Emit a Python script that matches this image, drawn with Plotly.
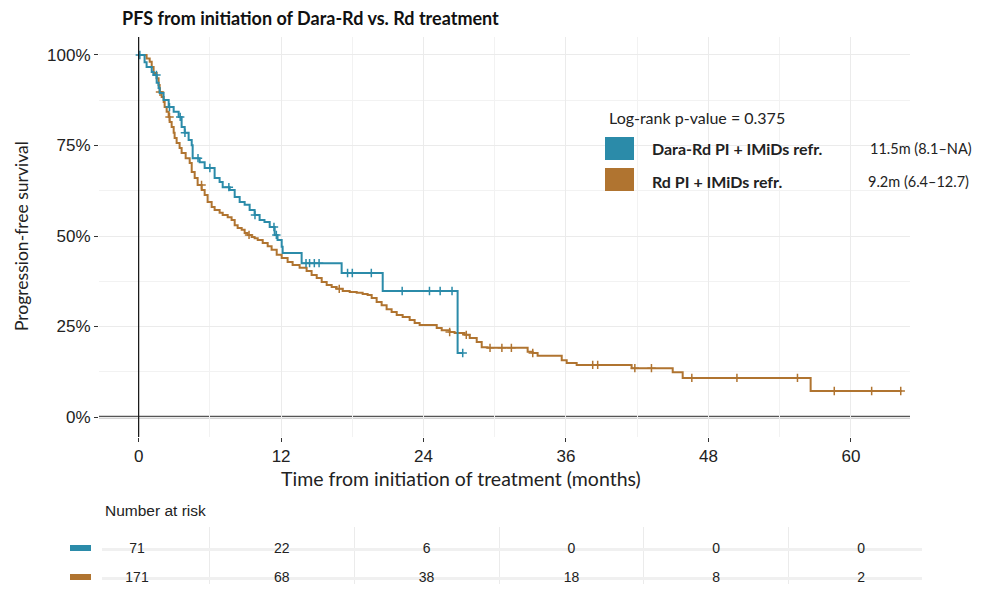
import numpy as np
import plotly.graph_objects as go

# ---------------- data ----------------
dara_time = [0, 0.5, 0.67, 1.1, 1.26, 1.52, 1.68, 1.77, 2.1, 2.53,
             2.95, 3.37, 3.62, 3.88, 4.21, 4.47, 4.55, 5.14, 5.56, 6.4,
             6.82, 7.08, 7.67, 8.09, 8.51, 8.93, 9.35, 9.77, 10.19, 10.6,
             11.04, 11.46, 11.7, 12.05, 12.13, 13.73, 17.1, 20.56, 26.87, 27.3]
dara_surv = [1.0, 0.98, 0.967, 0.953, 0.945, 0.923, 0.909, 0.895, 0.876, 0.856,
             0.843, 0.829, 0.801, 0.785, 0.765, 0.751, 0.715, 0.704, 0.688, 0.66,
             0.649, 0.635, 0.627, 0.608, 0.594, 0.586, 0.572, 0.558, 0.544, 0.539,
             0.525, 0.503, 0.489, 0.47, 0.453, 0.425, 0.398, 0.348, 0.177, 0.177]
dara_censor = [0.1, 1.5, 2.6, 3.5, 3.9, 5.0, 6.0, 7.6, 9.8, 11.4, 11.6, 14.1, 14.4,
               14.8, 15.2, 17.6, 18.0, 19.6, 22.2, 24.5, 25.4, 26.4, 27.3]

rd_time = [0, 0.67, 0.93, 1.10, 1.26, 1.52, 1.68, 1.77, 1.94, 2.11,
           2.19, 2.36, 2.53, 2.61, 2.78, 2.95, 3.03, 3.20, 3.45, 3.62,
           3.96, 4.30, 4.47, 4.72, 4.97, 5.31, 5.56, 5.81, 6.15, 6.40,
           6.82, 7.08, 7.50, 7.83, 8.09, 8.34, 8.68, 8.93, 9.18, 9.52,
           9.77, 10.03, 10.45, 10.87, 11.2, 11.63, 12.05, 12.55, 12.97, 13.56,
           14.15, 14.57, 15.0, 15.42, 15.84, 16.26, 16.68, 17.19, 17.78, 18.37,
           18.87, 19.29, 19.63, 20.05, 20.47, 20.89, 21.31, 21.74, 22.24, 22.83,
           23.25, 23.67, 25.11, 25.53, 26.2, 26.62, 27.46, 27.89, 28.48, 28.9,
           29.4, 32.77, 33.19, 33.61, 35.64, 36.06, 36.9, 41.53, 44.99, 45.83,
           56.61, 64.28]
rd_surv = [1.0, 0.99, 0.981, 0.967, 0.950, 0.936, 0.917, 0.898, 0.884, 0.870,
           0.856, 0.843, 0.829, 0.815, 0.801, 0.785, 0.771, 0.757, 0.743, 0.729,
           0.715, 0.702, 0.677, 0.660, 0.641, 0.627, 0.613, 0.594, 0.580, 0.572,
           0.564, 0.558, 0.552, 0.544, 0.530, 0.522, 0.517, 0.508, 0.503, 0.497,
           0.494, 0.489, 0.481, 0.472, 0.462, 0.448, 0.439, 0.428, 0.420, 0.412,
           0.403, 0.392, 0.384, 0.373, 0.365, 0.359, 0.354, 0.348, 0.345, 0.343,
           0.340, 0.337, 0.329, 0.318, 0.309, 0.298, 0.290, 0.282, 0.276, 0.268,
           0.260, 0.254, 0.246, 0.240, 0.235, 0.232, 0.227, 0.218, 0.207, 0.193,
           0.191, 0.180, 0.177, 0.169, 0.157, 0.149, 0.144, 0.135, 0.124, 0.108,
           0.072, 0.072]
rd_censor = [1.8, 2.6, 5.3, 9.3, 16.9, 26.2, 27.6, 29.6, 30.6, 31.4, 33.2, 38.25,
             38.67, 41.8, 43.2, 46.6, 50.4, 55.5, 58.6, 61.75, 64.2]

risk_times = [0, 12, 24, 36, 48, 60]
dara_risk = [71, 22, 6, 0, 0, 0]
rd_risk = [171, 68, 38, 18, 8, 2]

x_ticks = [0, 12, 24, 36, 48, 60]
x_minor = [6, 18, 30, 42, 54]
y_ticks = [0, 0.25, 0.5, 0.75, 1.0]
y_ticktext = ["0%", "25%", "50%", "75%", "100%"]
y_minor = [0.125, 0.375, 0.625, 0.875]

groups = ["Dara-Rd PI + IMiDs refr.", "Rd PI + IMiDs refr."]
medians = ["11.5m (8.1–NA)", "9.2m (6.4–12.7)"]
pval_text = "Log-rank p-value = 0.375"

BLUE = "#2b8ba9"
BROWN = "#b07430"

# ---------------- helpers ----------------
OFF = 8                      # default page body margin
W, H = 970, 576              # figure size so the page fits the window
def PX(x): return (x - OFF) / W
def PY(y): return 1 - (y - OFF) / H

def step_at(times, survs, t):
    idx = np.searchsorted(np.array(times), np.array(t), side="right") - 1
    return [survs[i] for i in idx]

fig = go.Figure()

for tm, sv, cen, col in [(rd_time, rd_surv, rd_censor, BROWN),
                         (dara_time, dara_surv, dara_censor, BLUE)]:
    fig.add_trace(go.Scatter(x=tm, y=sv, mode="lines", line=dict(color=col, width=2, shape="hv"),
                             xaxis="x", yaxis="y", hoverinfo="skip"))
    fig.add_trace(go.Scatter(x=cen, y=step_at(tm, sv, cen), mode="markers",
                             marker=dict(symbol="cross-thin-open", size=6, color=col,
                                         line=dict(color=col, width=1.5)),
                             xaxis="x", yaxis="y", hoverinfo="skip"))

# risk table
for yv, vals in [(1, dara_risk), (0, rd_risk)]:
    fig.add_trace(go.Scatter(x=risk_times, y=[yv] * len(vals), mode="text",
                             text=[str(v) for v in vals],
                             textfont=dict(family="Liberation Sans", size=14, color="#222"),
                             xaxis="x2", yaxis="y2", cliponaxis=False, hoverinfo="skip"))

fig.update_layout(
    width=W, height=H, margin=dict(l=0, r=0, t=0, b=0),
    plot_bgcolor="white", paper_bgcolor="white", showlegend=False,
    xaxis=dict(domain=[PX(99), PX(910)], range=[-3.34, 64.98],
               tickvals=x_ticks, ticks="outside", ticklen=4, tickcolor="#333",
               tickfont=dict(family="Liberation Sans", size=17, color="#222"),
               showgrid=True, gridcolor="#ebebeb", gridwidth=1,
               minor=dict(tickvals=x_minor, showgrid=True, gridcolor="#f2f2f2", gridwidth=1),
               zeroline=False, showline=False, anchor="y"),
    yaxis=dict(domain=[PY(437), PY(37)], range=[-0.0552, 1.0497],
               tickvals=y_ticks, ticktext=y_ticktext, ticks="outside", ticklen=4, tickcolor="#333",
               tickfont=dict(family="Liberation Sans", size=17, color="#222"),
               showgrid=True, gridcolor="#ebebeb", gridwidth=1,
               minor=dict(tickvals=y_minor, showgrid=True, gridcolor="#f2f2f2", gridwidth=1),
               zeroline=False, showline=False, anchor="x"),
    xaxis2=dict(domain=[PX(102), PX(922)], range=[-2.90, 65.05], anchor="y2",
                tickvals=x_ticks, showticklabels=False, ticks="", showgrid=False,
                minor=dict(tickvals=x_minor, showgrid=True, gridcolor="#ebebeb", gridwidth=1),
                zeroline=False, showline=False),
    yaxis2=dict(domain=[0, PY(527)], range=[-0.207, 1.759], anchor="x2",
                tickvals=[0, 1], showticklabels=False, ticks="", showgrid=True,
                gridcolor="#f0f0f0", gridwidth=3, zeroline=False, showline=False),
)

shapes = [
    dict(type="line", xref="x", yref="y domain", x0=0, x1=0, y0=0, y1=1,
         line=dict(color="#111", width=1.2), layer="above"),
    dict(type="line", xref="x domain", yref="y", x0=0, x1=1, y0=0, y1=0,
         line=dict(color="#555", width=2.4), layer="below"),
    # legend boxes
    dict(type="rect", xref="paper", yref="paper", x0=PX(605), x1=PX(634), y0=PY(160), y1=PY(137),
         fillcolor=BLUE, line=dict(width=0)),
    dict(type="rect", xref="paper", yref="paper", x0=PX(605), x1=PX(634), y0=PY(191), y1=PY(168),
         fillcolor=BROWN, line=dict(width=0)),
    # risk table keys
    dict(type="rect", xref="paper", yref="paper", x0=PX(70), x1=PX(91), y0=PY(551), y1=PY(545),
         fillcolor=BLUE, line=dict(width=0)),
    dict(type="rect", xref="paper", yref="paper", x0=PX(70), x1=PX(91), y0=PY(580), y1=PY(574),
         fillcolor=BROWN, line=dict(width=0)),
]
fig.update_layout(shapes=shapes)

ann = [
    dict(text="<b>PFS from initiation of Dara-Rd vs. Rd treatment</b>", x=PX(120), y=PY(18),
         xanchor="left", yanchor="middle", font=dict(family="Lato", size=18, color="#111")),
    dict(text="Progression-free survival", x=PX(22), y=PY(236), textangle=-90,
         xanchor="center", yanchor="middle", font=dict(family="Lato", size=17.5, color="#222")),
    dict(text="Time from initiation of treatment (months)", x=PX(461), y=PY(478),
         xanchor="center", yanchor="middle", font=dict(family="Lato", size=19.5, color="#222")),
    dict(text=pval_text, x=PX(607), y=PY(117), xanchor="left", yanchor="middle",
         font=dict(family="Lato", size=16, color="#222")),
    dict(text="<b>" + groups[0] + "</b>", x=PX(650), y=PY(149), xanchor="left", yanchor="middle",
         font=dict(family="Lato", size=16, color="#222")),
    dict(text="<b>" + groups[1] + "</b>", x=PX(650), y=PY(181), xanchor="left", yanchor="middle",
         font=dict(family="Lato", size=16, color="#222")),
    dict(text=medians[0], x=PX(868), y=PY(149), xanchor="left", yanchor="middle",
         font=dict(family="Lato", size=14.5, color="#222")),
    dict(text=medians[1], x=PX(866), y=PY(181), xanchor="left", yanchor="middle",
         font=dict(family="Lato", size=14.5, color="#222")),
    dict(text="Number at risk", x=PX(103), y=PY(510), xanchor="left", yanchor="middle",
         font=dict(family="Liberation Sans", size=15.5, color="#222")),
]
for a in ann:
    a.update(xref="paper", yref="paper", showarrow=False)
fig.update_layout(annotations=ann)

fig.write_html("out.html")
